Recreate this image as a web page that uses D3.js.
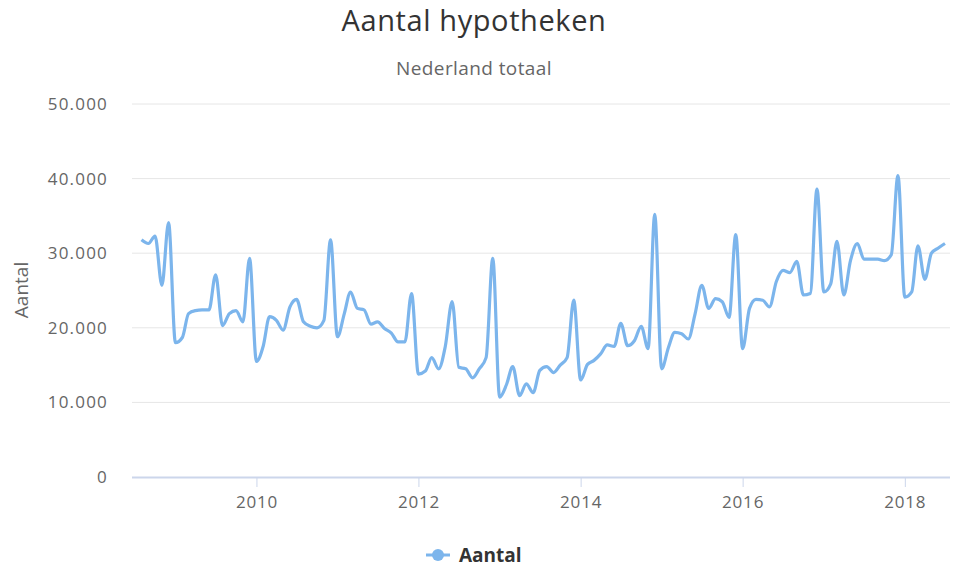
<!DOCTYPE html>
<html>
<head>
<meta charset="utf-8">
<script src="https://cdn.jsdelivr.net/npm/d3@7"></script>
<style>
  body { margin: 0; background: #fff; }
  text { font-family: "Open Sans", "DejaVu Sans", sans-serif; }
</style>
</head>
<body>
<div id="chart"></div>
<script>
// eerste maand van de reeks (aug 2008), daarna maandelijks
var startMonth = new Date(2008, 7, 1);
var aantal = [
  31800, 31300, 32300, 25700, 34100,                                           // 2008
  18000, 18700, 21900, 22300, 22400, 22400, 27100, 20300, 21900, 22300, 20800, 29300, // 2009
  15500, 17600, 21500, 21000, 19700, 22800, 23800, 20800, 20200, 20000, 21000, 31800, // 2010
  18800, 21900, 24800, 22600, 22400, 20500, 20800, 19900, 19300, 18100, 18100, 24600, // 2011
  13800, 14200, 16000, 14500, 17500, 23500, 14700, 14500, 13300, 14500, 16000, 29300, // 2012
  10700, 12400, 14800, 10900, 12500, 11300, 14300, 14800, 14000, 15000, 16000, 23700, // 2013
  13000, 15100, 15600, 16500, 17700, 17500, 20600, 17600, 18300, 20200, 17200, 35200, // 2014
  14500, 17400, 19400, 19200, 18500, 21900, 25700, 22600, 23900, 23500, 21400, 32500, // 2015
  17200, 22600, 23800, 23700, 22800, 26200, 27700, 27400, 28900, 24400, 24600, 38600, // 2016
  24800, 25900, 31600, 24400, 29000, 31300, 29200, 29200, 29200, 29000, 29800, 40400, // 2017
  24100, 24800, 31000, 26500, 30000, 30700, 31300                              // 2018
];
var yTicks = [0, 10000, 20000, 30000, 40000, 50000];
var xTickYears = [2010, 2012, 2014, 2016, 2018];

var data = aantal.map(function (v, i) {
  return { date: d3.timeMonth.offset(startMonth, i), value: v };
});

var width = 955, height = 572;
var plotLeft = 132, plotRight = 950, plotTop = 104, plotBottom = 477;

var nl = d3.formatLocale({ decimal: ",", thousands: ".", grouping: [3], currency: ["€ ", ""] });
var format = nl.format(",");

var svg = d3.select("#chart")
  .append("svg")
  .attr("width", width)
  .attr("height", height);

var x = d3.scaleTime()
  .domain(d3.extent(data, function (d) { return d.date; }))
  .range([141.5, 945]);

var y = d3.scaleLinear()
  .domain([0, 50000])
  .range([plotBottom, plotTop]);

// titels
svg.append("text")
  .attr("x", 474).attr("y", 31)
  .attr("text-anchor", "middle")
  .style("font-size", "29px")
  .style("letter-spacing", "0.6px")
  .style("fill", "#333")
  .text("Aantal hypotheken");

svg.append("text")
  .attr("x", 474).attr("y", 75)
  .attr("text-anchor", "middle")
  .style("font-size", "19px")
  .style("letter-spacing", "0.4px")
  .style("fill", "#666")
  .text("Nederland totaal");

// gridlines
svg.append("g")
  .selectAll("line")
  .data(yTicks.slice(1))
  .enter().append("line")
  .attr("x1", plotLeft).attr("x2", plotRight)
  .attr("y1", function (d) { return y(d); })
  .attr("y2", function (d) { return y(d); })
  .style("stroke", "#e6e6e6")
  .style("stroke-width", 1);

// y labels
svg.append("g")
  .selectAll("text")
  .data(yTicks)
  .enter().append("text")
  .attr("x", 108)
  .attr("y", function (d) { return y(d) + 6; })
  .attr("text-anchor", "end")
  .style("font-size", "17px")
  .style("letter-spacing", "1.2px")
  .style("fill", "#666")
  .text(function (d) { return format(d); });

svg.append("text")
  .attr("transform", "translate(28,290) rotate(-90)")
  .attr("text-anchor", "middle")
  .style("font-size", "19px")
  .style("fill", "#666")
  .text("Aantal");

// x axis
var xAxis = d3.axisBottom(x)
  .tickValues(xTickYears.map(function (yr) { return new Date(yr, 0, 1); }))
  .tickFormat(d3.timeFormat("%Y"))
  .tickSize(10)
  .tickSizeOuter(0);

var gx = svg.append("g")
  .attr("transform", "translate(0," + plotBottom + ")")
  .call(xAxis);
gx.select(".domain").remove();
gx.selectAll(".tick line").style("stroke", "#ccd6eb");
gx.selectAll(".tick text")
  .attr("dy", "1.05em")
  .style("font-size", "17px")
  .style("letter-spacing", "0.8px")
  .style("font-family", "'Open Sans', sans-serif")
  .style("fill", "#666");

svg.append("line")
  .attr("x1", plotLeft).attr("x2", plotRight)
  .attr("y1", plotBottom + 0.5).attr("y2", plotBottom + 0.5)
  .style("stroke", "#ccd6eb")
  .style("stroke-width", 2);

// de lijn
var line = d3.line()
  .x(function (d) { return x(d.date); })
  .y(function (d) { return y(d.value); })
  .curve(d3.curveMonotoneX);

svg.append("path")
  .datum(data)
  .attr("d", line)
  .style("fill", "none")
  .style("stroke", "#7cb5ec")
  .style("stroke-width", 3.2)
  .style("stroke-linejoin", "round");

// legenda
var legend = svg.append("g").attr("transform", "translate(426,555)");
legend.append("line")
  .attr("x1", 0).attr("x2", 24)
  .style("stroke", "#7cb5ec")
  .style("stroke-width", 3);
legend.append("circle")
  .attr("cx", 12).attr("r", 6)
  .style("fill", "#7cb5ec");
legend.append("text")
  .attr("x", 33).attr("y", 7)
  .style("font-size", "19px")
  .style("font-weight", "bold")
  .style("fill", "#333")
  .text("Aantal");
</script>
</body>
</html>
